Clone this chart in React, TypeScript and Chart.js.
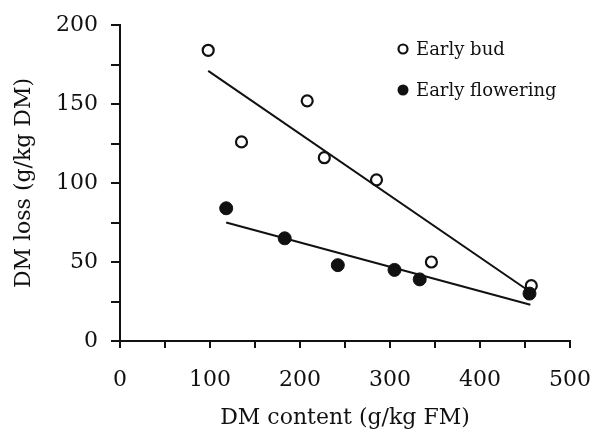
import { useEffect, useRef } from "react";
import { Chart, registerables } from "chart.js";

Chart.register(...registerables);

// Early bud (open circles)
const budX = [98, 135, 208, 227, 285, 346, 457];
const budY = [184, 126, 152, 116, 102, 50, 35];
// Early flowering (filled circles)
const flowX = [118, 183, 242, 305, 333, 455];
const flowY = [84, 65, 48, 45, 39, 30];
// Fitted regression lines (end points)
const budFitX = [98, 456];
const budFitY = [171, 31];
const flowFitX = [118, 456];
const flowFitY = [75, 23];

const seriesLabels = ["Early bud", "Early flowering"];
const xTitle = "DM content (g/kg FM)";
const yTitle = "DM loss (g/kg DM)";
const xMin = 0, xMax = 500, xStep = 50, xLabelEvery = 100;
const yMin = 0, yMax = 200, yStep = 25, yLabelEvery = 50;

const FONT = "'DejaVu Serif', 'Liberation Serif', serif";

const zip = (xs: number[], ys: number[]) => xs.map((x, i) => ({ x, y: ys[i] }));

const insideLegend = {
  id: "insideLegend",
  afterDatasetsDraw(chart: any) {
    const { ctx, chartArea } = chart;
    const items = chart.data.datasets.filter((d: any) => d.inLegend);
    const x0 = chartArea.left + 283;
    const y0 = chartArea.top + 24;
    ctx.save();
    ctx.font = "18px " + FONT;
    ctx.textBaseline = "middle";
    ctx.textAlign = "left";
    items.forEach((d: any, i: number) => {
      const y = y0 + i * 41;
      ctx.beginPath();
      if (d.inLegend === "open") {
        ctx.arc(x0, y, 4.5, 0, Math.PI * 2);
        ctx.lineWidth = 2.2;
        ctx.strokeStyle = "#111";
        ctx.stroke();
      } else {
        ctx.arc(x0, y, 5.5, 0, Math.PI * 2);
        ctx.fillStyle = "#111";
        ctx.fill();
      }
      ctx.fillStyle = "#111";
      ctx.fillText(d.label, x0 + 13, y + 1);
    });
    ctx.restore();
  },
};

export default function App() {
  const ref = useRef<HTMLCanvasElement | null>(null);

  useEffect(() => {
    if (!ref.current) return;
    const chart = new Chart(ref.current, {
      type: "scatter",
      data: {
        datasets: [
          {
            type: "line",
            label: "fit bud",
            data: zip(budFitX, budFitY),
            borderColor: "#111",
            borderWidth: 2,
            pointRadius: 0,
            fill: false,
          } as any,
          {
            type: "line",
            label: "fit flowering",
            data: zip(flowFitX, flowFitY),
            borderColor: "#111",
            borderWidth: 2,
            pointRadius: 0,
            fill: false,
          } as any,
          {
            label: seriesLabels[0],
            inLegend: "open",
            data: zip(budX, budY),
            pointRadius: 5.5,
            pointBorderWidth: 2.2,
            borderColor: "#111",
            backgroundColor: "rgba(255,255,255,0)",
          } as any,
          {
            label: seriesLabels[1],
            inLegend: "filled",
            data: zip(flowX, flowY),
            pointRadius: 6.5,
            pointBorderWidth: 1,
            borderColor: "#111",
            backgroundColor: "#111",
          } as any,
        ],
      },
      options: {
        animation: false,
        responsive: false,
        layout: { padding: { top: 25, right: 28, left: 0, bottom: 0 } },
        plugins: {
          legend: { display: false },
          tooltip: { enabled: false },
        },
        scales: {
          x: {
            type: "linear",
            min: xMin,
            max: xMax,
            afterFit: (s: any) => {
              s.height = 94;
              s.paddingLeft = 0;
              s.paddingRight = 0;
            },
            border: { display: true, color: "#111", width: 2 },
            grid: { drawOnChartArea: false, drawTicks: true, tickLength: 7, color: "#111", lineWidth: 2 },
            ticks: {
              stepSize: xStep,
              color: "#111",
              padding: 19,
              maxRotation: 0,
              autoSkip: false,
              font: { family: FONT, size: 22 },
              callback: (v: any) => (Number(v) % xLabelEvery === 0 ? String(v) : ""),
            },
            title: {
              display: true,
              text: xTitle,
              color: "#111",
              font: { family: FONT, size: 22 },
              padding: { top: 0, bottom: 4 },
            },
          },
          y: {
            type: "linear",
            min: yMin,
            max: yMax,
            afterFit: (s: any) => {
              s.width = 120;
              s.paddingTop = 0;
              s.paddingBottom = 0;
            },
            border: { display: true, color: "#111", width: 2 },
            grid: { drawOnChartArea: false, drawTicks: true, tickLength: 9, color: "#111", lineWidth: 2 },
            ticks: {
              stepSize: yStep,
              color: "#111",
              padding: 13,
              autoSkip: false,
              font: { family: FONT, size: 22 },
              callback: (v: any) => (Number(v) % yLabelEvery === 0 ? String(v) : ""),
            },
            title: {
              display: true,
              text: yTitle,
              color: "#111",
              font: { family: FONT, size: 22 },
              padding: { top: 11, bottom: 0 },
            },
          },
        },
      },
      plugins: [insideLegend],
    });
    return () => chart.destroy();
  }, []);

  return (
    <div style={{ position: "fixed", left: 0, top: 0, width: 598, height: 435, background: "#fff" }}>
      <canvas ref={ref} width={598} height={435} style={{ width: 598, height: 435 }} />
    </div>
  );
}
